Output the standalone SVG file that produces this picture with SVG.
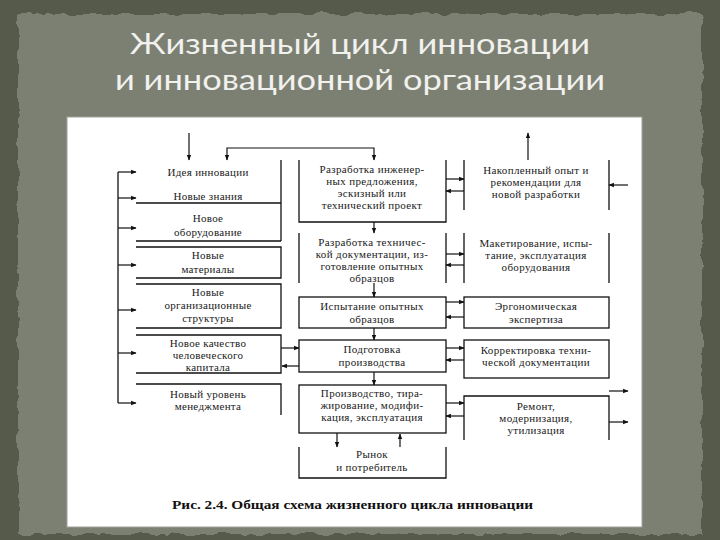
<svg xmlns="http://www.w3.org/2000/svg" width="720" height="540" viewBox="0 0 720 540">
<defs>
<marker id="ah" viewBox="0 0 10 10" refX="9" refY="5" markerWidth="5.5" markerHeight="5.5" orient="auto" markerUnits="userSpaceOnUse">
<path d="M0,1 L10,5 L0,9 z" fill="#111"/>
</marker>
<filter id="rough" x="-5%" y="-5%" width="110%" height="110%">
<feTurbulence type="fractalNoise" baseFrequency="0.06" numOctaves="3" seed="4"/>
<feDisplacementMap in="SourceGraphic" scale="8"/>
</filter>
</defs>
<style>
.ln{fill:none;stroke:#111;stroke-width:1.3}
.ar{fill:none;stroke:#111;stroke-width:1.2;marker-end:url(#ah)}
.t{font-family:"Liberation Serif","Times New Roman",serif;font-size:11px;letter-spacing:0.35px;fill:#1a1a1a;text-anchor:middle}
.tl{font-family:"Liberation Serif","Times New Roman",serif;font-size:11px;letter-spacing:0.3px;fill:#1a1a1a;text-anchor:middle}
.ttl{font-family:Lato,"Noto Sans",sans-serif;font-size:29px;fill:#f1f1ee;text-anchor:middle}
.cap{font-family:"Liberation Serif","Times New Roman",serif;font-size:13.5px;font-weight:bold;fill:#111}
</style>
<rect x="0" y="0" width="720" height="540" fill="#555a4a"/>
<rect x="18" y="14" width="684" height="520" fill="#7b8073" filter="url(#rough)"/>
<text class="ttl" x="360" y="54" textLength="460" lengthAdjust="spacingAndGlyphs">Жизненный цикл инновации</text>
<text class="ttl" x="360" y="90" textLength="490" lengthAdjust="spacingAndGlyphs">и инновационной организации</text>
<rect x="67" y="117" width="575" height="410" fill="#ffffff" stroke="#a0a29a" stroke-width="1"/>

<g id="left1"><path class="ln" d="M136,203 H281 M281,160 V203"/>
<text class="tl" x="208" y="176">Идея инновации</text>
<text class="tl" x="208" y="200">Новые знания</text></g>
<g id="left2"><path class="ln" d="M136,241 H281 M281,203 V241"/>
<text class="tl" x="208" y="222">Новое</text>
<text class="tl" x="208" y="236">оборудование</text></g>
<g id="left3"><path class="ln" d="M136,247 H281 V278 H136"/>
<text class="tl" x="208" y="259">Новые</text>
<text class="tl" x="208" y="273">материалы</text></g>
<g id="left4"><path class="ln" d="M136,284 H281 V328 H136"/>
<text class="tl" x="208" y="296">Новые</text>
<text class="tl" x="208" y="309">организационные</text>
<text class="tl" x="208" y="322">структуры</text></g>
<g id="left5"><path class="ln" d="M136,335 H281 V373 H136"/>
<text class="tl" x="208" y="347">Новое качество</text>
<text class="tl" x="208" y="359">человеческого</text>
<text class="tl" x="208" y="371">капитала</text></g>
<g id="left6"><path class="ln" d="M136,384 H281 V415"/>
<text class="tl" x="208" y="398">Новый уровень</text>
<text class="tl" x="208" y="410">менеджмента</text></g>

<g id="mid1"><path class="ln" d="M299,160 V222 H446 V160"/>
<text class="t" x="372" y="173">Разработка инженер-</text>
<text class="t" x="372" y="185">ных предложения,</text>
<text class="t" x="372" y="197">эскизный или</text>
<text class="t" x="372" y="209">технический проект</text></g>
<g id="mid2"><path class="ln" d="M299,233 V283 M446,233 V283"/>
<text class="t" x="372" y="246">Разработка техничес-</text>
<text class="t" x="372" y="258">кой документации, из-</text>
<text class="t" x="372" y="270">готовление опытных</text>
<text class="t" x="372" y="282">образцов</text></g>
<g id="mid3"><rect class="ln" x="299" y="297" width="147" height="31"/>
<text class="t" x="372" y="310">Испытание опытных</text>
<text class="t" x="372" y="323">образцов</text></g>
<g id="mid4"><rect class="ln" x="299" y="340" width="147" height="32"/>
<text class="t" x="372" y="353">Подготовка</text>
<text class="t" x="372" y="366">производства</text></g>
<g id="mid5"><rect class="ln" x="299" y="385" width="147" height="48"/>
<text class="t" x="372" y="397">Производство, тира-</text>
<text class="t" x="372" y="409">жирование, модифи-</text>
<text class="t" x="372" y="421">кация, эксплуатация</text></g>
<g id="mid6"><path class="ln" d="M299,447 V478 H446 V447"/>
<text class="t" x="372" y="458">Рынок</text>
<text class="t" x="372" y="471">и потребитель</text></g>

<g id="right1"><path class="ln" d="M464,160 V210 M609,160 V210"/>
<text class="t" x="536" y="174">Накопленный опыт и</text>
<text class="t" x="536" y="186">рекомендации для</text>
<text class="t" x="536" y="198">новой разработки</text></g>
<g id="right2"><path class="ln" d="M464,233 V283 M609,233 V283"/>
<text class="t" x="536" y="247">Макетирование, испы-</text>
<text class="t" x="536" y="259">тание, эксплуатация</text>
<text class="t" x="536" y="271">оборудования</text></g>
<g id="right3"><rect class="ln" x="464" y="297" width="145" height="31"/>
<text class="t" x="536" y="310">Эргономическая</text>
<text class="t" x="536" y="323">экспертиза</text></g>
<g id="right4"><rect class="ln" x="464" y="340" width="145" height="38"/>
<text class="t" x="536" y="354">Корректировка техни-</text>
<text class="t" x="536" y="366">ческой документации</text></g>
<g id="right5"><path class="ln" d="M464,440 V396 H609 V440"/>
<text class="t" x="536" y="410">Ремонт,</text>
<text class="t" x="536" y="422">модернизация,</text>
<text class="t" x="536" y="434">утилизация</text></g>

<g id="connectors">
<path class="ln" d="M118,172 V403"/>
<path class="ar" d="M118,172 H136"/>
<path class="ar" d="M118,198 H136"/>
<path class="ar" d="M118,228 H136"/>
<path class="ar" d="M118,265 H136"/>
<path class="ar" d="M118,310 H136"/>
<path class="ar" d="M118,353 H136"/>
<path class="ar" d="M118,403 H136"/>
<path class="ar" d="M189,133 V160"/>
<path class="ar" d="M300,148 H227 V160"/>
<path class="ar" d="M300,148 H374 V160"/>
<path class="ar" d="M528,160 V133"/>
<path class="ar" d="M374,222 V233"/>
<path class="ar" d="M374,283 V297"/>
<path class="ar" d="M374,328 V340"/>
<path class="ar" d="M374,372 V385"/>
<path class="ar" d="M337,433 V447"/>
<path class="ar" d="M400,447 V434"/>
<path class="ar" d="M281,348 H299"/>
<path class="ar" d="M299,366 H282"/>
<path class="ar" d="M446,179 H464"/>
<path class="ar" d="M464,191 H446"/>
<path class="ar" d="M446,254 H464"/>
<path class="ar" d="M464,265 H446"/>
<path class="ar" d="M446,302 H464"/>
<path class="ar" d="M464,317 H446"/>
<path class="ar" d="M446,348 H464"/>
<path class="ar" d="M464,360 H446"/>
<path class="ar" d="M446,403 H464"/>
<path class="ar" d="M464,416 H446"/>
<path class="ar" d="M628,185 H609"/>
<path class="ar" d="M609,391 H628"/>
<path class="ar" d="M609,422 H628"/>
</g>
<text class="cap" x="172" y="509" textLength="361" lengthAdjust="spacingAndGlyphs">Рис. 2.4.  Общая схема жизненного цикла инновации</text>
</svg>
